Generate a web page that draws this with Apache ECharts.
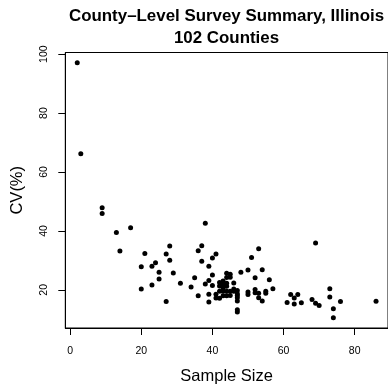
<!DOCTYPE html>
<html>
<head>
<meta charset="utf-8">
<script src="https://cdn.jsdelivr.net/npm/echarts@6/dist/echarts.min.js"></script>
<style>html,body{margin:0;padding:0;background:#fff;}#c{width:388px;height:390px;}</style>
</head>
<body>
<div id="c"></div>
<script>
const titleText = "County\u2013Level Survey Summary, Illinois\n102 Counties";
const xTitle = "Sample Size";
const yTitle = "CV(%)";
const xTicks = [0, 20, 40, 60, 80];
const yTicks = [20, 40, 60, 80, 100];
const sampleSize = [2,3,9,9,13,17,14,21,20,23,24,25,25,20,23,27,27,28,28,29,
  31,34,35,36,36,37,37,38,39,40,41,40,39,38,40,39,39,41,41,42,
  42,43,42,43,43,44,44,45,44,45,43,44,45,43,44,45,46,46,47,47,
  47,47,47,47,48,50,51,53,52,54,56,57,50,50,52,52,53,53,54,55,
  55,61,62,63,64,63,65,68,69,70,69,73,73,74,74,76,86,
  42,46,43,47,44];
const cvPct = [97.1,66.2,47.9,45.9,39.5,41.1,33.2,32.3,27.8,28.0,29.2,26.0,23.7,20.3,21.6,16.0,32.2,34.9,30.0,25.7,
  22.2,21.0,24.1,18.0,33.3,35.0,29.7,42.6,28.0,30.8,32.2,25.0,23.2,22.0,21.5,18.5,15.9,18.5,17.2,17.1,
  22.5,23.0,21.3,21.5,20.6,22.2,25.6,25.3,24.2,24.3,19.5,19.5,19.5,18.0,18.0,18.1,22.3,19.5,19.8,18.1,
  17.3,16.2,13.2,12.5,26.0,26.7,31.0,33.9,24.1,26.8,23.4,20.4,19.3,18.4,20.1,19.0,18.8,17.3,16.2,19.5,
  18.8,15.7,18.4,17.2,18.4,15.2,15.6,16.7,15.4,14.7,35.9,20.4,17.6,13.6,10.5,16.0,16.1,
  19.5,20.3,22.4,18.7,21.2];

const points = sampleSize.map((x, i) => [x, cvPct[i]]);
const font = "'Liberation Sans', Arial, Helvetica, sans-serif";

const chart = echarts.init(document.getElementById('c'), null, {renderer: 'canvas'});
chart.setOption({
  animation: false,
  backgroundColor: '#ffffff',
  title: {
    text: titleText,
    left: 221.5,
    top: 0,
    textAlign: 'center',
    textStyle: {fontFamily: font, fontSize: 16.9, fontWeight: 'bold', color: '#000', lineHeight: 22}
  },
  grid: {
    left: 65.3, top: 52.5, right: -1.3, bottom: 54,
    show: true, borderColor: '#000', borderWidth: 1, backgroundColor: 'transparent'
  },
  xAxis: {
    type: 'value',
    min: -1.36, max: 89.36,
    name: xTitle,
    nameLocation: 'middle',
    nameGap: 40,
    nameTextStyle: {fontFamily: font, fontSize: 16.5, color: '#000'},
    axisLine: {show: true, onZero: false, lineStyle: {color: '#000', width: 1}},
    axisTick: {show: true, inside: false, length: 7, customValues: xTicks, lineStyle: {color: '#000', width: 1}},
    axisLabel: {show: true, customValues: xTicks, margin: 18, fontFamily: font, fontSize: 10.5, color: '#000', showMinLabel: true, showMaxLabel: true},
    splitLine: {show: false}
  },
  yAxis: {
    type: 'value',
    min: 7.04, max: 100.56,
    name: yTitle,
    nameLocation: 'middle',
    nameGap: 39,
    nameRotate: 90,
    nameTextStyle: {fontFamily: font, fontSize: 16.5, color: '#000'},
    axisLine: {show: true, onZero: false, lineStyle: {color: '#000', width: 1}},
    axisTick: {show: true, inside: false, length: 7, customValues: yTicks, lineStyle: {color: '#000', width: 1}},
    axisLabel: {show: true, customValues: yTicks, rotate: 90, margin: 16, fontFamily: font, fontSize: 10.5, color: '#000', showMinLabel: true, showMaxLabel: true},
    splitLine: {show: false}
  },
  series: [{
    type: 'scatter',
    data: points,
    symbol: 'circle',
    symbolSize: 5,
    itemStyle: {color: '#000', opacity: 1},
    silent: true
  }]
});
</script>
</body>
</html>
